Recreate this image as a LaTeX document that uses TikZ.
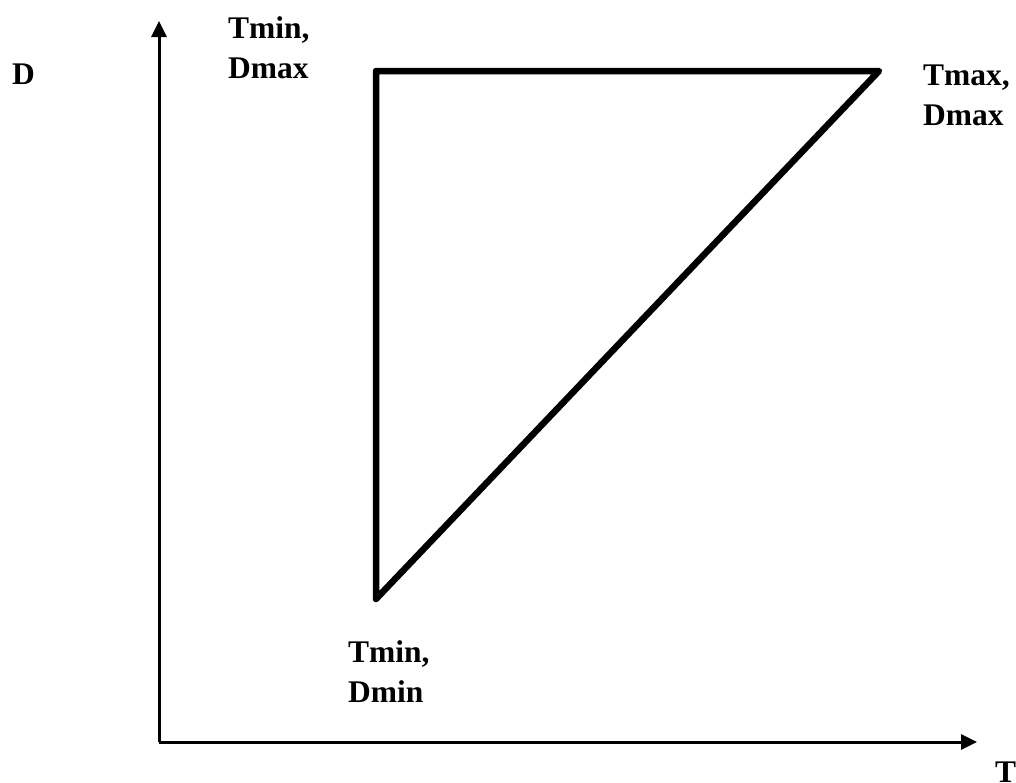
\documentclass[tikz,border=0pt]{standalone}
\usepackage{fontspec}
\setmainfont{Liberation Serif}
\usetikzlibrary{arrows.meta}
\begin{document}
\begin{tikzpicture}[x=1pt,y=-1pt,
  axis/.style={line width=3pt,-{Triangle[length=16pt,width=15pt]}},
  tri/.style={line width=6.5pt,line join=round},
  lbl/.style={anchor=north west,inner sep=0pt,align=left,font=\fontsize{31.5}{40}\selectfont\bfseries}]
\useasboundingbox (0,0) rectangle (1016,782);
\coordinate (O) at (159,742);
\coordinate (Ytip) at (159,21);
\coordinate (Xtip) at (977,742);
\draw[axis] (O) -- (Ytip);
\draw[axis] (O) -- (Xtip);
\coordinate (A) at (376,71);
\coordinate (B) at (879,71);
\coordinate (C) at (376,599);
\draw[tri] (A) -- (B) -- (C) -- cycle;
\node[lbl] (lD) at (12,64) {D};
\node[lbl] (lT) at (995,762) {T};
\node[lbl] (lA) at (228,16) {Tmin,\\Dmax};
\node[lbl] (lB) at (923,65) {Tmax,\\Dmax};
\node[lbl] (lC) at (348,640) {Tmin,\\Dmin};
\end{tikzpicture}
\end{document}
